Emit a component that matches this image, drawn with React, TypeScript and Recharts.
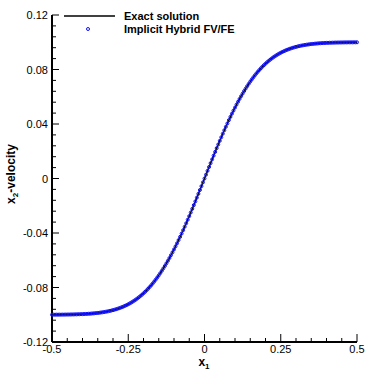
import React from 'react';
import { ComposedChart, Line, XAxis, YAxis } from 'recharts';

// x1 positions of the plotted points
const xs = [
  -0.5, -0.495, -0.49, -0.485, -0.48, -0.475, -0.47, -0.465, -0.46, -0.455,
  -0.45, -0.445, -0.44, -0.435, -0.43, -0.425, -0.42, -0.415, -0.41, -0.405,
  -0.4, -0.395, -0.39, -0.385, -0.38, -0.375, -0.37, -0.365, -0.36, -0.355,
  -0.35, -0.345, -0.34, -0.335, -0.33, -0.325, -0.32, -0.315, -0.31, -0.305,
  -0.3, -0.295, -0.29, -0.285, -0.28, -0.275, -0.27, -0.265, -0.26, -0.255,
  -0.25, -0.245, -0.24, -0.235, -0.23, -0.225, -0.22, -0.215, -0.21, -0.205,
  -0.2, -0.195, -0.19, -0.185, -0.18, -0.175, -0.17, -0.165, -0.16, -0.155,
  -0.15, -0.145, -0.14, -0.135, -0.13, -0.125, -0.12, -0.115, -0.11, -0.105,
  -0.1, -0.095, -0.09, -0.085, -0.08, -0.075, -0.07, -0.065, -0.06, -0.055,
  -0.05, -0.045, -0.04, -0.035, -0.03, -0.025, -0.02, -0.015, -0.01, -0.005,
  0, 0.005, 0.01, 0.015, 0.02, 0.025, 0.03, 0.035, 0.04, 0.045,
  0.05, 0.055, 0.06, 0.065, 0.07, 0.075, 0.08, 0.085, 0.09, 0.095,
  0.1, 0.105, 0.11, 0.115, 0.12, 0.125, 0.13, 0.135, 0.14, 0.145,
  0.15, 0.155, 0.16, 0.165, 0.17, 0.175, 0.18, 0.185, 0.19, 0.195,
  0.2, 0.205, 0.21, 0.215, 0.22, 0.225, 0.23, 0.235, 0.24, 0.245,
  0.25, 0.255, 0.26, 0.265, 0.27, 0.275, 0.28, 0.285, 0.29, 0.295,
  0.3, 0.305, 0.31, 0.315, 0.32, 0.325, 0.33, 0.335, 0.34, 0.345,
  0.35, 0.355, 0.36, 0.365, 0.37, 0.375, 0.38, 0.385, 0.39, 0.395,
  0.4, 0.405, 0.41, 0.415, 0.42, 0.425, 0.43, 0.435, 0.44, 0.445,
  0.45, 0.455, 0.46, 0.465, 0.47, 0.475, 0.48, 0.485, 0.49, 0.495,
  0.5,
];

// x2-velocity
const u2 = [
  -0.09996, -0.09995, -0.09995, -0.09994, -0.09993, -0.09992, -0.09991, -0.0999, -0.09989, -0.09987,
  -0.09985, -0.09983, -0.09981, -0.09979, -0.09976, -0.09973, -0.0997, -0.09966, -0.09963, -0.09958,
  -0.09953, -0.09948, -0.09942, -0.09935, -0.09928, -0.0992, -0.09911, -0.09901, -0.09891, -0.09879,
  -0.09867, -0.09853, -0.09838, -0.09821, -0.09804, -0.09784, -0.09764, -0.09741, -0.09716, -0.09689,
  -0.09661, -0.0963, -0.09597, -0.09561, -0.09523, -0.09481, -0.09438, -0.0939, -0.0934, -0.09286,
  -0.09229, -0.09168, -0.09103, -0.09034, -0.08961, -0.08884, -0.08802, -0.08716, -0.08624, -0.08528,
  -0.08427, -0.08321, -0.08209, -0.08092, -0.07969, -0.07841, -0.07707, -0.07567, -0.07421, -0.07269,
  -0.07112, -0.06948, -0.06778, -0.06602, -0.0642, -0.06232, -0.06039, -0.05839, -0.05633, -0.05422,
  -0.05205, -0.04983, -0.04755, -0.04522, -0.04284, -0.04041, -0.03794, -0.03542, -0.03286, -0.03026,
  -0.02763, -0.02496, -0.02227, -0.01955, -0.0168, -0.01403, -0.01125, -0.00845, -0.00564, -0.00282,
  0, 0.00282, 0.00564, 0.00845, 0.01125, 0.01403, 0.0168, 0.01955, 0.02227, 0.02496,
  0.02763, 0.03026, 0.03286, 0.03542, 0.03794, 0.04041, 0.04284, 0.04522, 0.04755, 0.04983,
  0.05205, 0.05422, 0.05633, 0.05839, 0.06039, 0.06232, 0.0642, 0.06602, 0.06778, 0.06948,
  0.07112, 0.07269, 0.07421, 0.07567, 0.07707, 0.07841, 0.07969, 0.08092, 0.08209, 0.08321,
  0.08427, 0.08528, 0.08624, 0.08716, 0.08802, 0.08884, 0.08961, 0.09034, 0.09103, 0.09168,
  0.09229, 0.09286, 0.0934, 0.0939, 0.09438, 0.09481, 0.09523, 0.09561, 0.09597, 0.0963,
  0.09661, 0.09689, 0.09716, 0.09741, 0.09764, 0.09784, 0.09804, 0.09821, 0.09838, 0.09853,
  0.09867, 0.09879, 0.09891, 0.09901, 0.09911, 0.0992, 0.09928, 0.09935, 0.09942, 0.09948,
  0.09953, 0.09958, 0.09963, 0.09966, 0.0997, 0.09973, 0.09976, 0.09979, 0.09981, 0.09983,
  0.09985, 0.09987, 0.09989, 0.0999, 0.09991, 0.09992, 0.09993, 0.09994, 0.09995, 0.09995,
  0.09996,
];

const xMajor = [-0.5, -0.25, 0, 0.25, 0.5];
const xMinor = [-0.45, -0.4, -0.35, -0.3, -0.2, -0.15, -0.1, -0.05, 0.05, 0.1, 0.15, 0.2, 0.3, 0.35, 0.4, 0.45];
const yMajor = [-0.12, -0.08, -0.04, 0, 0.04, 0.08, 0.12];
const yMinor = [
  -0.112, -0.104, -0.096, -0.088, -0.072, -0.064, -0.056, -0.048,
  -0.032, -0.024, -0.016, -0.008, 0.008, 0.016, 0.024, 0.032,
  0.048, 0.056, 0.064, 0.072, 0.088, 0.096, 0.104, 0.112,
];

const data = xs.map((x, i) => ({ x, exact: u2[i], fvfe: u2[i] }));

const FONT = '"Liberation Sans", Arial, Helvetica, sans-serif';
const MARKER = '#1010ff';

const XTick = ({ x, y, payload }: any) => {
  const major = xMajor.includes(payload.value);
  return (
    <g>
      <line x1={x} x2={x} y1={y} y2={y - (major ? 8 : 4)} stroke="#000" strokeWidth={1} />
      {major && (
        <text x={x} y={y + 11} textAnchor="middle" fontSize={11} fontFamily={FONT} fill="#000">
          {payload.value}
        </text>
      )}
    </g>
  );
};

const YTick = ({ x, y, payload }: any) => {
  const major = yMajor.includes(payload.value);
  return (
    <g>
      <line x1={x} x2={x + (major ? 7 : 4)} y1={y} y2={y} stroke="#000" strokeWidth={1} />
      {major && (
        <text x={x - 4} y={y + 4} textAnchor="end" fontSize={11} fontFamily={FONT} fill="#000">
          {payload.value}
        </text>
      )}
    </g>
  );
};

export default function App() {
  return (
    <div style={{ position: 'absolute', left: 0, top: 0, width: 371, height: 371, background: '#fff' }}>
      <ComposedChart width={371} height={371} data={data} margin={{ top: 15, right: 14, bottom: 0, left: 0 }}>
        <XAxis
          dataKey="x"
          type="number"
          domain={[-0.5, 0.5]}
          ticks={[...xMajor, ...xMinor].sort((a, b) => a - b)}
          interval={0}
          height={29}
          tickSize={0}
          tickMargin={0}
          tickLine={false}
          tick={<XTick />}
          axisLine={{ stroke: '#000', strokeWidth: 2 }}
        />
        <YAxis
          type="number"
          domain={[-0.12, 0.12]}
          ticks={[...yMajor, ...yMinor].sort((a, b) => a - b)}
          interval={0}
          width={52}
          tickSize={0}
          tickMargin={0}
          tickLine={false}
          tick={<YTick />}
          axisLine={{ stroke: '#000', strokeWidth: 2 }}
          allowDataOverflow
        />
        <Line dataKey="exact" type="linear" stroke="#000" strokeWidth={1.5} dot={false} isAnimationActive={false} />
        <Line
          dataKey="fvfe"
          type="linear"
          stroke="none"
          dot={{ r: 1.5, stroke: MARKER, strokeWidth: 1, fill: 'none' }}
          activeDot={false}
          isAnimationActive={false}
        />
      </ComposedChart>
      <svg width={371} height={371} style={{ position: 'absolute', left: 0, top: 0, pointerEvents: 'none' }}>
        {/* legend */}
        <line x1={64} x2={115} y1={16} y2={16} stroke="#000" strokeWidth={1.5} />
        <text x={124} y={20} fontSize={11} fontWeight="bold" fontFamily={FONT} fill="#000">Exact solution</text>
        <circle cx={88} cy={29} r={1.5} stroke={MARKER} strokeWidth={1} fill="none" />
        <text x={124} y={33} fontSize={11} fontWeight="bold" fontFamily={FONT} fill="#000">Implicit Hybrid FV/FE</text>
        {/* axis titles */}
        <text x={204} y={366} textAnchor="middle" fontSize={12} fontWeight="bold" fontFamily={FONT} fill="#000">
          x<tspan fontSize={8} dy={3}>1</tspan>
        </text>
        <g transform="translate(11,174) rotate(-90)">
          <text x={0} y={4} textAnchor="middle" fontSize={12} fontWeight="bold" fontFamily={FONT} fill="#000">
            x<tspan fontSize={8} dy={3}>2</tspan><tspan dy={-3}>-velocity</tspan>
          </text>
        </g>
      </svg>
    </div>
  );
}
